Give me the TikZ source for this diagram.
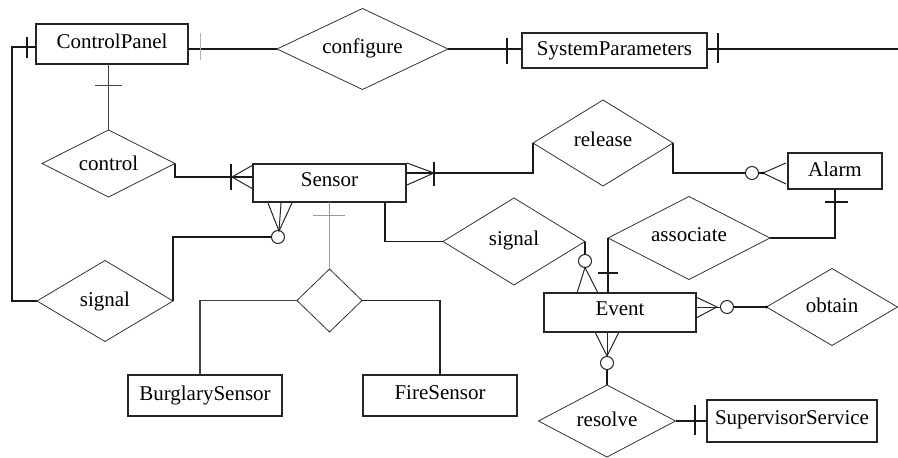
\documentclass[tikz,border=0pt]{standalone}
\usepackage{fontspec}
\setmainfont{Liberation Serif}
\usetikzlibrary{shapes.geometric,calc}
\begin{document}
\begin{tikzpicture}[x=1pt,y=-1pt,
  ent/.style={draw=black!85, line width=1.3pt, rectangle, inner sep=0pt, outer sep=0pt, font=\fontsize{21}{25}\selectfont},
  rel/.style={draw=black!80, line width=0.8pt, diamond, aspect=2, inner sep=0pt, outer sep=0pt, font=\fontsize{21}{25}\selectfont},
  conn/.style={line width=1.2pt, draw=black!90},
  crow/.style={line width=1pt, draw=black!85},
  tk/.style={line width=1.2pt, draw=black!90},
  ring/.style={circle, draw=black!85, line width=1pt, minimum size=13pt, inner sep=0pt, outer sep=0pt, fill=white},
  dotn/.style={circle, fill=black, minimum size=3pt, inner sep=0pt, outer sep=0pt},
]
\useasboundingbox[fill=white] (0,0) rectangle (898,458);

% entities
\node[ent, minimum width=152pt, minimum height=40pt] (cp) at (112,44) {\raisebox{5pt}{ControlPanel}};
\node[ent, minimum width=185pt, minimum height=35pt] (sp) at (614.5,50.5) {\raisebox{2pt}{SystemParameters}};
\node[ent, minimum width=153pt, minimum height=38pt] (sensor) at (329.5,183) {\raisebox{6pt}{Sensor}};
\node[ent, minimum width=94pt, minimum height=36pt] (alarm) at (835,171) {\raisebox{4pt}{Alarm}};
\node[ent, minimum width=152pt, minimum height=39pt] (event) at (620,312.5) {\raisebox{7pt}{Event}};
\node[ent, minimum width=154pt, minimum height=41pt] (bs) at (205,395.5) {\raisebox{5pt}{BurglarySensor}};
\node[ent, minimum width=154pt, minimum height=41pt] (fs) at (440,395.5) {\raisebox{5pt}{FireSensor}};
\node[ent, minimum width=170pt, minimum height=42pt] (ss) at (792,421) {\raisebox{6pt}{SupervisorService}};

% relationships
\node[rel, minimum width=171pt, minimum height=81pt] (configure) at (362.5,49) {\raisebox{6pt}{configure}};
\node[rel, minimum width=133pt, minimum height=67pt] (control) at (108.5,163.5) {control};
\node[rel, minimum width=140pt, minimum height=86pt] (release) at (603,143) {\raisebox{8pt}{release}};
\node[rel, minimum width=136pt, minimum height=81pt] (signalA) at (105,301) {signal};
\node[rel, minimum width=65pt, minimum height=63pt] (gen) at (329.5,300.5) {};
\node[rel, minimum width=142pt, minimum height=87pt] (signalB) at (514,241.5) {\raisebox{6pt}{signal}};
\node[rel, minimum width=162pt, minimum height=83pt] (assoc) at (689,238) {\raisebox{7pt}{associate}};
\node[rel, minimum width=131pt, minimum height=77pt] (obtain) at (832,307) {\raisebox{4pt}{obtain}};
\node[rel, minimum width=137pt, minimum height=72pt] (resolve) at (607,421) {\raisebox{4pt}{resolve}};

% optional (zero) rings
\node[ring] (r1) at (752,173) {};
\node[ring] (r2) at (585,261) {};
\node[ring] (r3) at (278,237) {};
\node[ring] (r4) at (727,307) {};
\node[ring] (r5) at (607,363) {};
\coordinate (rightend) at (898,49);

% ControlPanel -- signal (left)
\draw[conn] ([yshift=-3pt]cp.west) -- ++(-24,0) |- (signalA.west);
\draw[tk] (27,37) -- (27,58);

% ControlPanel -- configure
\draw[conn] ([yshift=-5pt]cp.east) -- (configure.west);
\draw[line width=1pt, black!30] (200,33) -- (200,60);

% configure -- SystemParameters
\draw[conn] (configure.east) -- (configure.east -| sp.west);
\draw[tk] (507,38) -- (507,64);

% SystemParameters -- right edge
\draw[conn] ([yshift=1.5pt]sp.east) -- (rightend);
\draw[tk] (718,33) -- (718,63);

% ControlPanel -- control
\draw[line width=1pt, black!75] (control.north) -- (control.north |- cp.south);
\draw[line width=1pt, black!75] (95,85) -- (122,85);

% control -- Sensor
\draw[conn] (control.east) |- ([yshift=6pt]sensor.west);
\draw[crow] (253,165) -- (232,177) -- (253,189);
\draw[tk] (231,164) -- (231,190);

% Sensor -- release
\draw[conn] ([yshift=10pt]sensor.east) -| (release.west);
\draw[crow] (407,163) -- (434,173) -- (407,185);
\draw[tk] (434,162) -- (434,186);

% release -- Alarm
\draw[conn] (release.east) |- (r1.west);
\draw[conn] (r1.east) -- (763,173);
\draw[crow] (786,163) -- (763,173) -- (786,184);
\node[dotn] (d1) at (763,173) {};

% Alarm -- associate
\draw[conn] (alarm.south) |- (assoc.east);
\draw[tk] (825,202) -- (848,202);

% associate -- Event
\draw[conn] (assoc.west) -- (assoc.west |- event.north);
\draw[tk] (598,273) -- (618,273);

% Sensor -- signal (middle)
\draw[conn] ([xshift=55.5pt]sensor.south) |- (signalB.west);

% signal (middle) -- Event
\draw[conn] (signalB.east) -- (r2.north);
\draw[crow] (577,293) -- (585,267.5) -- (598,293);

% Sensor -- signal (left)
\draw[crow] (268,203) -- (279,231) -- (292,203);
\draw[crow] (281,203) -- (279,231);
\draw[conn] (r3.west) -| (signalA.east);

% generalisation
\draw[line width=1pt, black!40] (gen.north) -- (gen.north |- sensor.south);
\draw[line width=1pt, black!40] (313,215) -- (345,215);
\draw[line width=1.1pt, black!75] (gen.west) -| ([xshift=-5pt]bs.north);
\draw[line width=1.1pt, black!85] (gen.east) -| (fs.north);

% Event -- obtain
\draw[crow] (696,297) -- (717,307) -- (696,318);
\draw[crow] (696,307) -- (r4.west);
\draw[conn] (r4.east) -- (obtain.west);
\node[dotn] (d2) at (obtain.west) {};

% Event -- resolve
\draw[crow] (595,332) -- (607,356) -- (619,332);
\draw[crow] (607,332) -- (r5.north);
\draw[conn] (r5.south) -- (resolve.north);

% resolve -- SupervisorService
\draw[conn] (resolve.east) -- (resolve.east -| ss.west);
\draw[tk] (695,405) -- (695,435);
\end{tikzpicture}
\end{document}
